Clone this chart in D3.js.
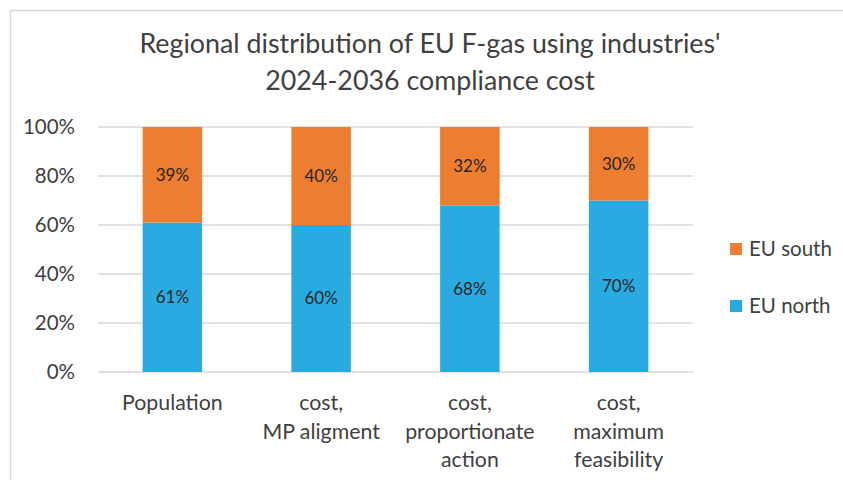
<!DOCTYPE html>
<html>
<head>
<meta charset="utf-8">
<script src="https://cdn.jsdelivr.net/npm/d3@7"></script>
<style>
  body { margin: 0; background: #fff; }
  svg text { font-family: Lato, "Open Sans", sans-serif; fill: #404040; }
</style>
</head>
<body>
<script>
const categories = [['Population'], ['cost,', 'MP aligment'], ['cost,', 'proportionate', 'action'], ['cost,', 'maximum', 'feasibility']]
const euNorth = [61, 60, 68, 70]
const euSouth = [39, 40, 32, 30]
const yTicks = [0, 20, 40, 60, 80, 100]
const titleLines = ["Regional distribution of EU F-gas using industries'", '2024-2036 compliance cost']

const width = 843, height = 480
const margin = { top: 127, left: 98, right: 150, bottom: 108 }

const svg = d3.select('body')
  .append('svg')
  .attr('width', width)
  .attr('height', height)

// chart area border (runs off the right and bottom edge)
svg.append('rect')
  .attr('x', 10.5)
  .attr('y', 10.5)
  .attr('width', 900)
  .attr('height', 600)
  .attr('fill', 'none')
  .attr('stroke', '#d9d9d9')
  .attr('stroke-width', 1.5)

svg.append('text')
  .attr('text-anchor', 'middle')
  .attr('font-size', 26.8)
  .selectAll('tspan')
  .data(titleLines)
  .enter()
  .append('tspan')
  .attr('x', 430)
  .attr('y', (d, i) => 53 + i * 37)
  .text(d => d)

const x = d3.scaleBand()
  .domain(d3.range(categories.length))
  .range([margin.left, width - margin.right])
  .paddingInner(0.6)
  .paddingOuter(0.3)

const y = d3.scaleLinear()
  .domain([0, 100])
  .range([height - margin.bottom, margin.top])

// gridlines
svg.append('g')
  .selectAll('line')
  .data(yTicks)
  .enter()
  .append('line')
  .attr('x1', margin.left)
  .attr('x2', width - margin.right)
  .attr('y1', d => y(d))
  .attr('y2', d => y(d))
  .attr('stroke', '#d9d9d9')
  .attr('stroke-width', 1.5)

const yAxis = d3.axisLeft(y)
  .tickValues(yTicks)
  .tickFormat(d => d + '%')
  .tickSize(0)
  .tickPadding(23)

svg.append('g')
  .attr('transform', `translate(${margin.left},0)`)
  .call(yAxis)
  .call(g => g.select('.domain').remove())
  .selectAll('text')
  .attr('font-size', 20.5)
  .attr('font-family', null)

const series = [
  { name: 'EU north', values: euNorth, color: '#29abe2' },
  { name: 'EU south', values: euSouth, color: '#ed7d31' }
]

series.forEach((s, si) => {
  const base = i => si === 0 ? 0 : euNorth[i]
  svg.append('g')
    .selectAll('rect')
    .data(s.values)
    .enter()
    .append('rect')
    .attr('x', (d, i) => x(i))
    .attr('width', x.bandwidth())
    .attr('y', (d, i) => y(base(i) + d))
    .attr('height', (d, i) => y(base(i)) - y(base(i) + d))
    .attr('fill', s.color)

  svg.append('g')
    .selectAll('text')
    .data(s.values)
    .enter()
    .append('text')
    .attr('x', (d, i) => x(i) + x.bandwidth() / 2)
    .attr('y', (d, i) => y(base(i) + d / 2))
    .attr('dy', '0.35em')
    .attr('text-anchor', 'middle')
    .attr('font-size', 17)
    .style('fill', '#262626')
    .text(d => d + '%')
})

// category labels
svg.append('g')
  .selectAll('text')
  .data(categories)
  .enter()
  .append('text')
  .attr('text-anchor', 'middle')
  .attr('font-size', 21.3)
  .each(function (d, i) {
    d3.select(this).selectAll('tspan')
      .data(d)
      .enter()
      .append('tspan')
      .attr('x', x(i) + x.bandwidth() / 2)
      .attr('y', (t, j) => 410 + j * 28.5)
      .text(t => t)
  })

// legend
const legend = svg.append('g')
  .selectAll('g')
  .data(series.slice().reverse())
  .enter()
  .append('g')
  .attr('transform', (d, i) => `translate(730,${243 + i * 57})`)

legend.append('rect')
  .attr('width', 12)
  .attr('height', 12)
  .attr('fill', d => d.color)

legend.append('text')
  .attr('x', 19)
  .attr('y', 6)
  .attr('dy', '0.35em')
  .attr('font-size', 20.5)
  .text(d => d.name)
</script>
</body>
</html>
